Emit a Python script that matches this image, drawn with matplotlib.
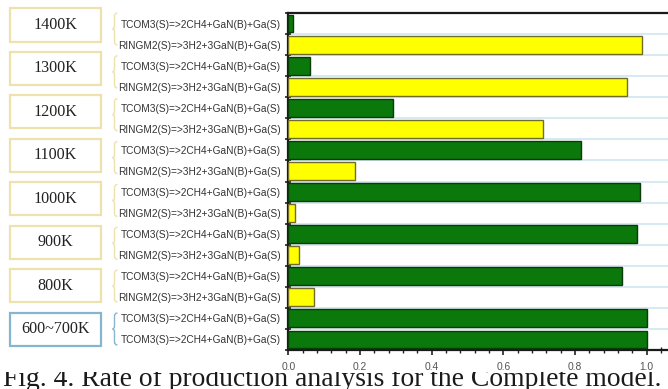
import matplotlib
matplotlib.use("Agg")
import matplotlib.pyplot as plt
import numpy as np
from matplotlib.patches import Rectangle, PathPatch
from matplotlib.path import Path
from matplotlib.ticker import MultipleLocator

TCOM3 = "TCOM3(S)=>2CH4+GaN(B)+Ga(S)"
RINGM2 = "RINGM2(S)=>3H2+3GaN(B)+Ga(S)"

temps = ["1400K", "1300K", "1200K", "1100K", "1000K", "900K", "800K", "600~700K"]
row_labels = [TCOM3, RINGM2] * 7 + [TCOM3, TCOM3]
row_values = [0.014, 0.988, 0.060, 0.944, 0.291, 0.710, 0.817, 0.187,
              0.982, 0.020, 0.974, 0.029, 0.932, 0.071, 1.000, 1.000]
caption = "Fig. 4. Rate of production analysis for the Complete model."

GREEN = "#0b780b"
GREEN_EDGE = "#0c3a0c"
YELLOW = "#ffff00"
YELLOW_EDGE = "#6f6c2c"
GRID = "#cfe5ef"
BOX_EDGE = "#eee2ac"
BOX_EDGE_LOW = "#86b6cf"

W, H = 668, 389


def fx(px):
    return px / W


def fy(py):
    return 1 - py / H


fig = plt.figure(figsize=(W / 100, H / 100), dpi=100)
fig.patch.set_facecolor("white")
ax = fig.add_axes([fx(288.3), fy(350), (W - 288.3) / W, (350 - 13) / H])

rows = np.arange(len(row_labels))
colors = [GREEN if lab.startswith("TCOM3") else YELLOW for lab in row_labels]
edges = [GREEN_EDGE if lab.startswith("TCOM3") else YELLOW_EDGE for lab in row_labels]
ax.barh(rows, row_values, height=0.85, color=colors, edgecolor=edges,
        linewidth=1.0, zorder=3)

ax.set_xlim(0, 1.0594)
ax.set_ylim(len(rows) - 0.5, -0.5)

# reaction names as y labels, tick marks only at row boundaries
ax.set_yticks(rows)
ax.set_yticklabels(row_labels, fontsize=7.3, family="Liberation Sans", color="#333333")
ax.set_yticks(np.arange(len(rows) + 1) - 0.5, minor=True)
ax.tick_params(axis="y", which="major", length=0, pad=5.5)
ax.tick_params(axis="y", which="minor", length=5, width=1.2, direction="inout", color="#222222")
ax.grid(True, axis="y", which="minor", color=GRID, linewidth=1.2, zorder=0)
ax.set_axisbelow(True)

ax.xaxis.set_major_locator(MultipleLocator(0.2))
ax.xaxis.set_minor_locator(MultipleLocator(0.04))
ax.tick_params(axis="x", which="major", length=7, width=1.2, direction="inout",
               color="#222222", labelsize=7.4, labelcolor="#555555", pad=5)
ax.tick_params(axis="x", which="minor", length=4, width=1.0, direction="inout", color="#222222")
for lab in ax.get_xticklabels():
    lab.set_family("Liberation Sans")

ax.spines["right"].set_visible(False)
for s in ("left", "top", "bottom"):
    ax.spines[s].set_color("#1a1a1a")
    ax.spines[s].set_linewidth(1.6)

# temperature boxes and braces on the left
box_centers = np.linspace(25, 329, len(temps))
brace_centers = np.linspace(29, 329, len(temps))
for i, (t, cy, by) in enumerate(zip(temps, box_centers, brace_centers)):
    ec = BOX_EDGE_LOW if i == len(temps) - 1 else BOX_EDGE
    fig.add_artist(Rectangle((fx(9.5), fy(cy + 16.5)), 91 / W, 33 / H,
                             transform=fig.transFigure, facecolor="white",
                             edgecolor=ec, linewidth=1.6, zorder=1))
    fig.text(fx(55), fy(cy), t, ha="center", va="center", fontsize=11.6,
             family="Liberation Serif", color="#222222", zorder=2)

    top, bot, x0 = by - 16, by + 16, 114.5
    verts = [(x0 + 3, top), (x0, top), (x0, top + 3),
             (x0, by - 3), (x0, by), (x0 - 2, by),
             (x0, by), (x0, by + 3),
             (x0, bot - 3), (x0, bot), (x0 + 3, bot)]
    codes = [Path.MOVETO, Path.CURVE3, Path.CURVE3,
             Path.LINETO, Path.CURVE3, Path.CURVE3,
             Path.CURVE3, Path.CURVE3,
             Path.LINETO, Path.CURVE3, Path.CURVE3]
    verts = [(fx(x), fy(y)) for x, y in verts]
    fig.add_artist(PathPatch(Path(verts, codes), transform=fig.transFigure,
                             facecolor="none", edgecolor=ec, linewidth=1.0, zorder=1))

# caption, partly hidden under the chart area
fig.text(fx(3), fy(385.5), caption, ha="left", va="baseline", fontsize=19.9,
         family="Liberation Serif", color="#1a1a1a", zorder=-2)
fig.add_artist(Rectangle((0, fy(372)), 1, 1, transform=fig.transFigure,
                         facecolor="white", edgecolor="none", zorder=-1))

fig.savefig("out.png", dpi=100, facecolor="white")
